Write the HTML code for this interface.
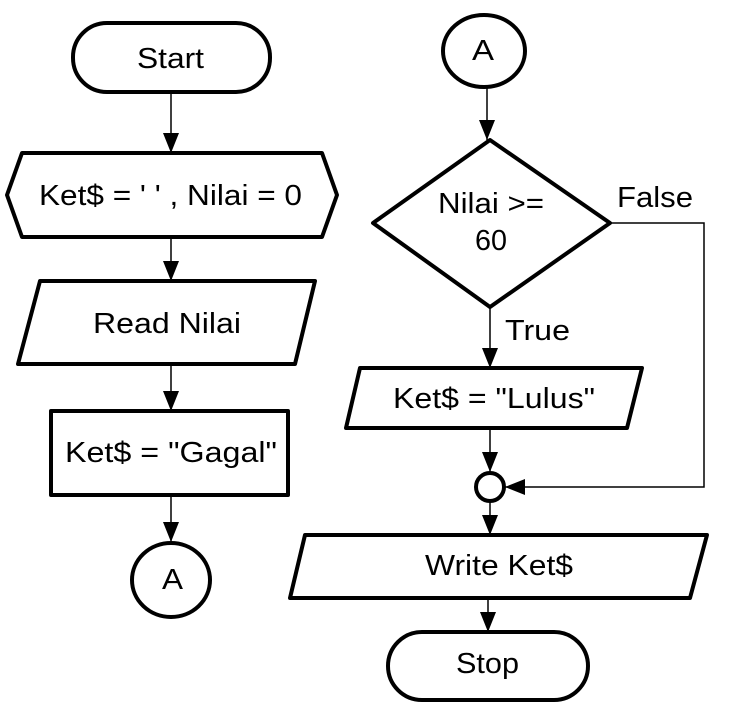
<!DOCTYPE html>
<html><head><meta charset="utf-8"><style>
html,body{margin:0;padding:0;background:#fff;}
svg{display:block;}
text{font-family:"Liberation Sans",Arial,sans-serif;font-size:29px;fill:#000;}
</style></head><body>
<svg width="731" height="727" viewBox="0 0 731 727" xmlns="http://www.w3.org/2000/svg">
<defs>
<marker id="ah" markerWidth="20" markerHeight="16" refX="20" refY="8" orient="auto" markerUnits="userSpaceOnUse">
<path d="M0,0 L20,8 L0,16 Z" fill="#000"/>
</marker>
</defs>
<g fill="none" stroke="#000" stroke-width="1.5">
<line x1="171" y1="92" x2="171" y2="153" marker-end="url(#ah)"/>
<line x1="171" y1="237" x2="171" y2="281" marker-end="url(#ah)"/>
<line x1="171" y1="364" x2="171" y2="411" marker-end="url(#ah)"/>
<line x1="171" y1="495" x2="171" y2="542" marker-end="url(#ah)"/>
<line x1="487" y1="88" x2="487" y2="140" marker-end="url(#ah)"/>
<line x1="490" y1="307" x2="490" y2="368" marker-end="url(#ah)"/>
<line x1="490" y1="428" x2="490" y2="472" marker-end="url(#ah)"/>
<polyline points="610,223 704,223 704,487 505,487" marker-end="url(#ah)"/>
<line x1="490" y1="502" x2="490" y2="535" marker-end="url(#ah)"/>
<line x1="488" y1="598" x2="488" y2="632" marker-end="url(#ah)"/>
</g>
<g fill="#fff" stroke="#000" stroke-width="4" stroke-linejoin="round">
<rect x="73" y="23" width="197" height="69" rx="34" ry="34"/>
<polygon points="22,153 322,153 337,195 322,237 22,237 7,195"/>
<polygon points="40,281 315,281 295,364 18,364"/>
<rect x="51" y="411" width="237" height="84"/>
<ellipse cx="171" cy="580" rx="39" ry="37"/>
<ellipse cx="484" cy="51" rx="41" ry="36"/>
<polygon points="490,140 610,223 490,307 373,223"/>
<polygon points="360,368 642,368 627,428 346,428"/>
<circle cx="490" cy="487" r="14"/>
<polygon points="305,535 707,535 690,598 290,598"/>
<rect x="388" y="632" width="200" height="68" rx="34" ry="34"/>
</g>
<g lengthAdjust="spacingAndGlyphs">
<text x="137" y="68" textLength="67" lengthAdjust="spacingAndGlyphs">Start</text>
<text x="39" y="205" textLength="263" lengthAdjust="spacingAndGlyphs">Ket$ = ' ' , Nilai = 0</text>
<text x="93" y="333" textLength="148" lengthAdjust="spacingAndGlyphs">Read Nilai</text>
<text x="65" y="462" textLength="212" lengthAdjust="spacingAndGlyphs">Ket$ = "Gagal"</text>
<text x="162" y="589" textLength="21" lengthAdjust="spacingAndGlyphs">A</text>
<text x="472" y="60" textLength="22" lengthAdjust="spacingAndGlyphs">A</text>
<text x="438" y="213" textLength="106" lengthAdjust="spacingAndGlyphs">Nilai &gt;=</text>
<text x="475" y="250" textLength="32" lengthAdjust="spacingAndGlyphs">60</text>
<text x="393" y="408" textLength="202" lengthAdjust="spacingAndGlyphs">Ket$ = "Lulus"</text>
<text x="425" y="575" textLength="148" lengthAdjust="spacingAndGlyphs">Write Ket$</text>
<text x="456" y="673" textLength="63" lengthAdjust="spacingAndGlyphs">Stop</text>
<text x="505" y="340" textLength="65" lengthAdjust="spacingAndGlyphs">True</text>
<text x="617" y="207" textLength="76" lengthAdjust="spacingAndGlyphs">False</text>
</g>
</svg>
</body></html>
